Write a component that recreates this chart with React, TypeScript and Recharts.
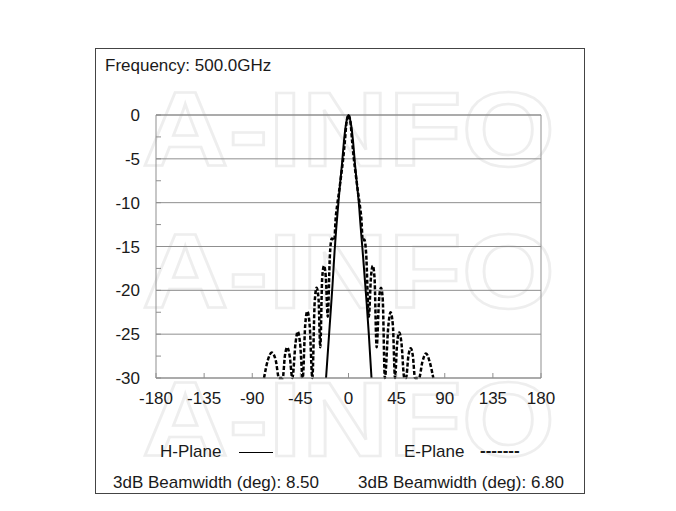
import React from "react";
import {
  LineChart,
  Line,
  XAxis,
  YAxis,
  CartesianGrid,
  ReferenceLine
} from "recharts";

// angle ticks (deg) and level ticks (dB)
const DEG_TICKS = [-180, -135, -90, -45, 0, 45, 90, 135, 180];
const DB_TICKS = [
  -30, -27.5, -25, -22.5, -20, -17.5, -15, -12.5, -10, -7.5, -5, -2.5, 0
];
const DB_GRID = [-30, -25, -20, -15, -10, -5, 0];

// H-Plane, solid
const H_DEG = [
  -21, -19, -17, -15, -13, -11.5, -10, -8, -6, -4.25, -2, 0,
  2, 4.25, 6, 8, 10, 11, 13, 15, 17, 19, 21.5
];
const H_DB = [
  -30, -26.5, -23, -19.5, -15.5, -13, -10.8, -8, -5.5, -3, -0.8, 0,
  -0.8, -3, -5.5, -8, -10.5, -12.2, -15.2, -18.3, -21.5, -25, -30
];

// E-Plane, dashed
const E_DEG = [
  -79, -75.5, -71.8, -68, -65, -61.5, -59.5, -57.3, -55, -52.5, -49.5, -47.5,
  -45.3, -42.8, -40.5, -38.5, -36.3, -33.8, -31.6, -29.8, -28, -26.4, -24.6,
  -22.9, -21.2, -19.4, -17.4, -15.7, -13.3, -12, -10.5, -9, -7, -5, -3.4, -2,
  -1, 0, 1, 2, 3.4, 5, 7, 9, 10.5, 12, 13.3, 14.8, 16.5, 19, 21, 22.7, 24.3,
  26.3, 28.6, 30.4, 32, 34, 37.3, 39.3, 41.5, 43.5, 45.5, 47.5, 49.5, 52.2,
  53.8, 56, 58.2, 60.2, 62.2, 66, 69, 72.5, 76, 79.3
];
const E_DB = [
  -30, -28, -27.1, -28, -30, -30, -27.5, -26.5, -27.5, -30, -26, -24.7,
  -26, -30, -24, -22.4, -24, -30, -21.3, -19.7, -21, -26.5, -18.6,
  -17.2, -18.5, -23, -16, -14.1, -14.3, -11.8, -10.2, -8.9, -7, -5, -3, -1,
  -0.3, 0, -0.3, -1, -3, -5, -7, -8.9, -10.2, -11.8, -14.3, -14.2, -15.8, -23,
  -18.5, -17.2, -18.5, -26.5, -21, -19.7, -21, -30, -24, -22.5, -24, -30,
  -26, -24.8, -26, -30, -30, -27.5, -26.6, -27.5, -30, -30, -28.2, -27.2,
  -28.2, -30
];

const H_PLANE = H_DEG.map((deg, i) => ({ deg, db: H_DB[i] }));
const E_PLANE = E_DEG.map((deg, i) => ({ deg, db: E_DB[i] }));

const FONT = "'Liberation Sans', Arial, sans-serif";
const TEXT_COLOR = "#1a1a1a";
const GRID_COLOR = "#8f8f8f";

const label = (left: number, top: number): React.CSSProperties => ({
  position: "absolute",
  left,
  top,
  fontFamily: FONT,
  fontSize: 17,
  lineHeight: "20px",
  color: TEXT_COLOR,
  whiteSpace: "nowrap"
});

const App = () => {
  return (
    <div
      style={{
        position: "absolute",
        left: 0,
        top: 0,
        width: 676,
        height: 511,
        background: "#fff"
      }}
    >
      {/* frame */}
      <div
        style={{
          position: "absolute",
          left: 95,
          top: 48,
          width: 488,
          height: 444,
          border: "1.5px solid #444"
        }}
      />
      {/* watermark */}
      <svg
        width={490}
        height={446}
        style={{ position: "absolute", left: 95, top: 48 }}
      >
        {[118, 260, 408].map((y) => (
          <text
            key={y}
            x={47}
            y={y}
            textLength={413}
            lengthAdjust="spacingAndGlyphs"
            fontFamily={FONT}
            fontWeight="bold"
            fontSize={106}
            fill="none"
            stroke="#eeeeee"
            strokeWidth={2.5}
          >
            A-INFO
          </text>
        ))}
      </svg>

      <div style={{ position: "absolute", left: 95, top: 48 }}>
        <LineChart
          width={490}
          height={446}
          margin={{ top: 67, right: 44, bottom: 86, left: 0 }}
        >
          <CartesianGrid
            vertical={false}
            horizontalValues={DB_GRID}
            stroke={GRID_COLOR}
          />
          <XAxis
            type="number"
            dataKey="deg"
            domain={[-180, 180]}
            ticks={DEG_TICKS}
            interval={0}
            height={30}
            tickSize={-5}
            tickMargin={19}
            axisLine={{ stroke: GRID_COLOR }}
            tickLine={{ stroke: GRID_COLOR }}
            tick={{ fontSize: 17, fill: TEXT_COLOR, fontFamily: FONT }}
          />
          <YAxis
            type="number"
            domain={[-30, 0]}
            ticks={DB_TICKS}
            interval={0}
            width={61}
            tickSize={-5}
            tickMargin={21}
            tickFormatter={(v: number) => (v % 5 === 0 ? String(v) : "")}
            axisLine={{ stroke: GRID_COLOR }}
            tickLine={{ stroke: GRID_COLOR }}
            tick={{ fontSize: 17, fill: TEXT_COLOR, fontFamily: FONT }}
          />
          <ReferenceLine x={180} stroke={GRID_COLOR} />
          <ReferenceLine y={0} stroke={GRID_COLOR} />
          <Line
            data={H_PLANE}
            dataKey="db"
            type="monotone"
            stroke="#000"
            strokeWidth={2}
            dot={false}
            isAnimationActive={false}
          />
          <Line
            data={E_PLANE}
            dataKey="db"
            type="monotone"
            stroke="#000"
            strokeWidth={2.5}
            strokeDasharray="4 2"
            dot={false}
            isAnimationActive={false}
          />
        </LineChart>
      </div>

      <div style={label(105, 56)}>Frequency: 500.0GHz</div>

      <div style={label(160, 442)}>H-Plane</div>
      <div
        style={{
          position: "absolute",
          left: 239,
          top: 452,
          width: 34,
          height: 1.2,
          background: "#000"
        }}
      />
      <div style={label(404, 442)}>E-Plane</div>
      <div style={{ ...label(480, 441), fontWeight: "bold" }}>-------</div>

      <div style={label(113, 473)}>3dB Beamwidth (deg): 8.50</div>
      <div style={label(358, 473)}>3dB Beamwidth (deg): 6.80</div>
    </div>
  );
};

export default App;
